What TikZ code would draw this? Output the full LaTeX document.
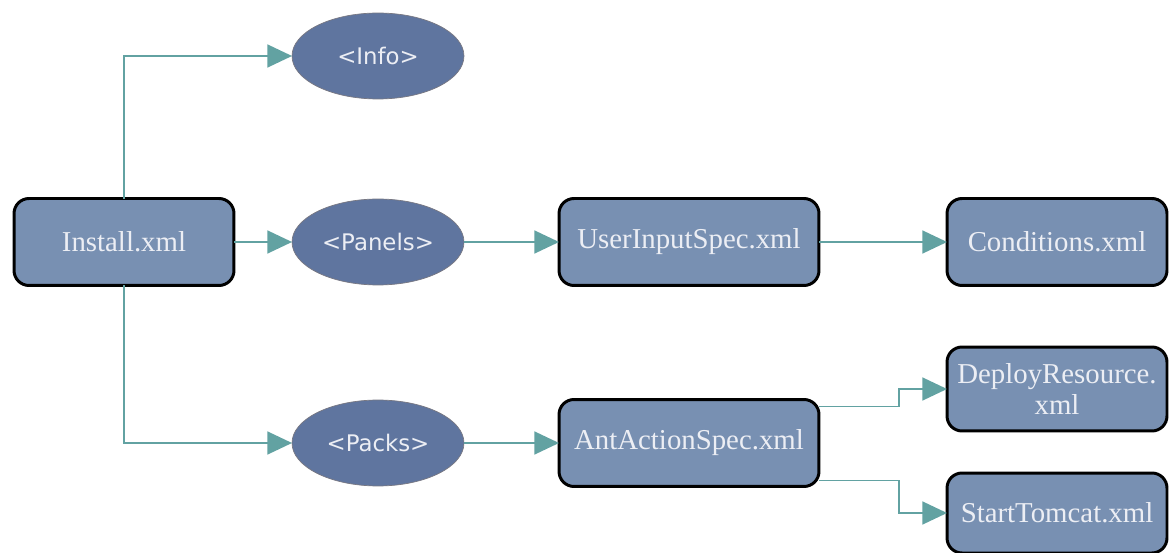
\documentclass[tikz,border=0pt]{standalone}
\usepackage{fontspec}
\setmainfont{Liberation Serif}
\newfontfamily\tagfont{DejaVu Sans}
\usetikzlibrary{arrows.meta,calc,shapes.geometric}

\definecolor{boxfill}{RGB}{120,144,178}
\definecolor{tagfill}{RGB}{95,117,159}
\definecolor{tagline}{RGB}{120,120,130}
\definecolor{linkcol}{RGB}{98,162,162}
\definecolor{labelcol}{RGB}{236,238,244}

\tikzset{
  filebox/.style={draw=black, line width=1.7pt, fill=boxfill, rounded corners=0.3cm,
    minimum width=4.4cm, minimum height=1.74cm, inner sep=0pt, outer sep=0pt,
    text=labelcol, align=center, font=\fontsize{16.4}{17.5}\selectfont},
  tagnode/.style={ellipse, draw=tagline, line width=0.4pt, fill=tagfill,
    minimum width=3.44cm, minimum height=1.72cm, inner sep=0pt, outer sep=0pt,
    text=labelcol, font=\tagfont\fontsize{13}{15}\selectfont},
  link/.style={draw=linkcol, line width=1.1pt,
    -{Triangle[length=14pt,width=13pt]}},
}

\begin{document}
\begin{tikzpicture}[x=0.02cm, y=-0.02cm]
  \useasboundingbox (0,0) rectangle (1169,553);

  % file nodes
  \node[filebox] (install) at (124,242) {Install.xml};
  \node[filebox, minimum width=5.2cm] (user) at (689,242) {UserInputSpec.xml};
  \node[filebox] (cond) at (1057,242) {Conditions.xml};
  \node[filebox, minimum width=5.2cm] (ant) at (689,443) {AntActionSpec.xml};
  \node[filebox, minimum height=1.68cm] (deploy) at (1057,389) {DeployResource.\\xml};
  \node[filebox, minimum height=1.6cm] (tomcat) at (1057,513) {StartTomcat.xml};

  % tag nodes
  \node[tagnode] (info) at (378,56) {<Info>};
  \node[tagnode] (panels) at (378,242) {<Panels>};
  \node[tagnode] (packs) at (378,443) {<Packs>};

  % branch points just inside the top and bottom corners of AntActionSpec
  \coordinate (antup) at ($(ant.north east)+(0,7)$);
  \coordinate (antdown) at ($(ant.south east)+(0,-6)$);
  \coordinate (bendup) at (899,0 |- antup);
  \coordinate (benddown) at (899,0 |- antdown);

  % connectors
  \draw[link] (install.north) |- (info.west);
  \draw[link] (install.east) -- (panels.west);
  \draw[link] (install.south) |- (packs.west);
  \draw[link] (panels.east) -- (user.west);
  \draw[link] (user.east) -- (cond.west);
  \draw[link] (packs.east) -- (ant.west);
  \draw[link] (antup) -- (bendup) |- (deploy.west);
  \draw[link] (antdown) -- (benddown) |- (tomcat.west);
\end{tikzpicture}
\end{document}
